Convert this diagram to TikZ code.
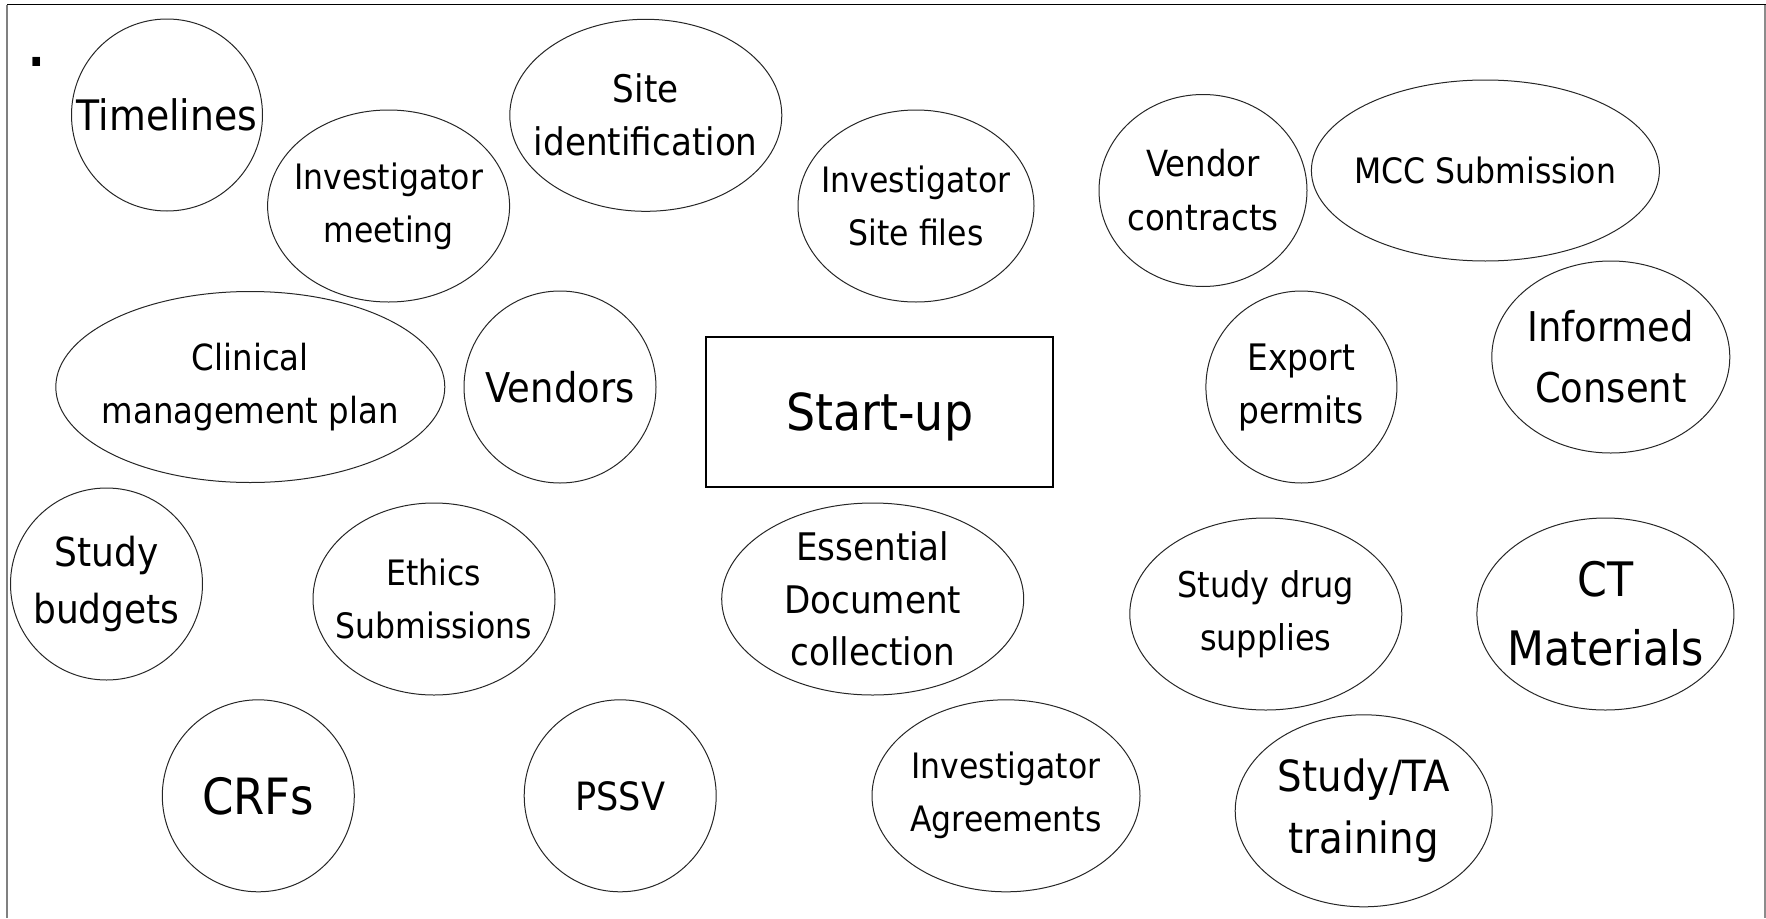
\documentclass[tikz,border=0pt]{standalone}
\usepackage{fontspec}
\setmainfont{DejaVu Sans}[FakeStretch=0.9]
\usetikzlibrary{shapes.geometric}
% font size and baseline skip for the bubble texts
\newcommand\bubfont[2]{\fontsize{#1pt}{#2pt}\selectfont}
\begin{document}
\begin{tikzpicture}[x=1pt,y=-1pt,
  bubble/.style={ellipse,draw=black!85,line width=1pt,inner sep=0pt},
  hub/.style={rectangle,draw=black,line width=2pt,inner sep=0pt},
  txt/.style={align=center,inner sep=0pt,text=black}]
\useasboundingbox (0,0) rectangle (1766,918);

% frame
\coordinate (fTL) at (7.3,4.6);
\coordinate (fTR) at (1766,4.6);
\coordinate (fBL) at (7.3,918);
\coordinate (fRT) at (1765,4.6);
\coordinate (fRB) at (1765,918);
\draw[line width=1.3pt,black] (fTL) -- (fTR);
\draw[line width=1.7pt,black!50] (fTL) -- (fBL);
\draw[line width=1.5pt,black!45] (fRT) -- (fRB);

% stray dot
\node[txt,anchor=base,font=\bfseries\bubfont{48}{52}] (dot) at (36.5,66) {.};

% ellipses
\node[bubble,minimum width=191pt,minimum height=192pt] (tl) at (167,115) {};
\node[bubble,minimum width=242pt,minimum height=192pt] (im) at (388.6,206) {};
\node[bubble,minimum width=272pt,minimum height=192pt] (si) at (645.8,115.3) {};
\node[bubble,minimum width=236pt,minimum height=192pt] (isf) at (916,206) {};
\node[bubble,minimum width=208pt,minimum height=192pt] (vc) at (1203,190.5) {};
\node[bubble,minimum width=348pt,minimum height=181pt] (mcc) at (1485.4,170.5) {};
\node[bubble,minimum width=389pt,minimum height=191pt] (cmp) at (250.3,387) {};
\node[bubble,minimum width=192pt,minimum height=192pt] (ven) at (560,387) {};
\node[bubble,minimum width=191pt,minimum height=192pt] (ep) at (1301.4,387) {};
\node[bubble,minimum width=238pt,minimum height=192pt] (ic) at (1610.8,357) {};
\node[bubble,minimum width=192pt,minimum height=192pt] (sb) at (106.5,584) {};
\node[bubble,minimum width=242pt,minimum height=192pt] (es) at (434,599) {};
\node[bubble,minimum width=302pt,minimum height=192pt] (edc) at (872.7,599) {};
\node[bubble,minimum width=272pt,minimum height=192pt] (sds) at (1265.8,614) {};
\node[bubble,minimum width=257pt,minimum height=192pt] (ctm) at (1605.4,614) {};
\node[bubble,minimum width=192pt,minimum height=192pt] (crf) at (258.3,795.8) {};
\node[bubble,minimum width=192pt,minimum height=192pt] (pssv) at (620.2,795.8) {};
\node[bubble,minimum width=268pt,minimum height=192pt] (ia) at (1006,795.8) {};
\node[bubble,minimum width=257pt,minimum height=192pt] (sta) at (1363.7,810.8) {};

% central box
\node[hub,minimum width=347.5pt,minimum height=149.4pt] (su) at (879.7,412) {};

% texts
\node[txt,font=\bubfont{42}{60}] (tl-t) at (tl) {Timelines};
\node[txt,font=\bubfont{35}{53}] (im-t) at (im) {Investigator\\meeting};
\node[txt,font=\bubfont{38}{53}] (si-t) at (si) {Site\\identification};
\node[txt,font=\bubfont{35}{53}] (isf-t) at (isf) {Investigator\\Site files};
\node[txt,font=\bubfont{36}{54}] (vc-t) at (vc) {Vendor\\contracts};
\node[txt,font=\bubfont{35}{53}] (mcc-t) at (mcc) {MCC Submission};
\node[txt,font=\bubfont{36}{53}] (cmp-t) at (cmp) {Clinical\\management plan};
\node[txt,font=\bubfont{41}{58}] (ven-t) at (ven) {Vendors};
\node[txt,font=\bubfont{51}{70},yshift=-5pt] (su-t) at (su) {Start-up};
\node[txt,font=\bubfont{36.5}{53}] (ep-t) at (ep) {Export\\permits};
\node[txt,font=\bubfont{41}{61}] (ic-t) at (ic) {Informed\\Consent};
\node[txt,font=\bubfont{40}{57}] (sb-t) at (sb) {Study\\budgets};
\node[txt,font=\bubfont{35}{53}] (es-t) at (es) {Ethics\\Submissions};
\node[txt,font=\bubfont{38}{52.4}] (edc-t) at (edc) {Essential\\Document\\collection};
\node[txt,font=\bubfont{35.5}{53}] (sds-t) at (sds) {Study drug\\supplies};
\node[txt,font=\bubfont{47.5}{69}] (ctm-t) at (ctm) {CT\\Materials};
\node[txt,font=\bubfont{50}{70}] (crf-t) at (crf) {CRFs};
\node[txt,font=\bubfont{39}{55}] (pssv-t) at (pssv) {PSSV};
\node[txt,font=\bubfont{35}{53}] (ia-t) at (ia) {Investigator\\Agreements};
\node[txt,font=\bubfont{43}{62}] (sta-t) at (sta) {Study/TA\\training};
\end{tikzpicture}
\end{document}
